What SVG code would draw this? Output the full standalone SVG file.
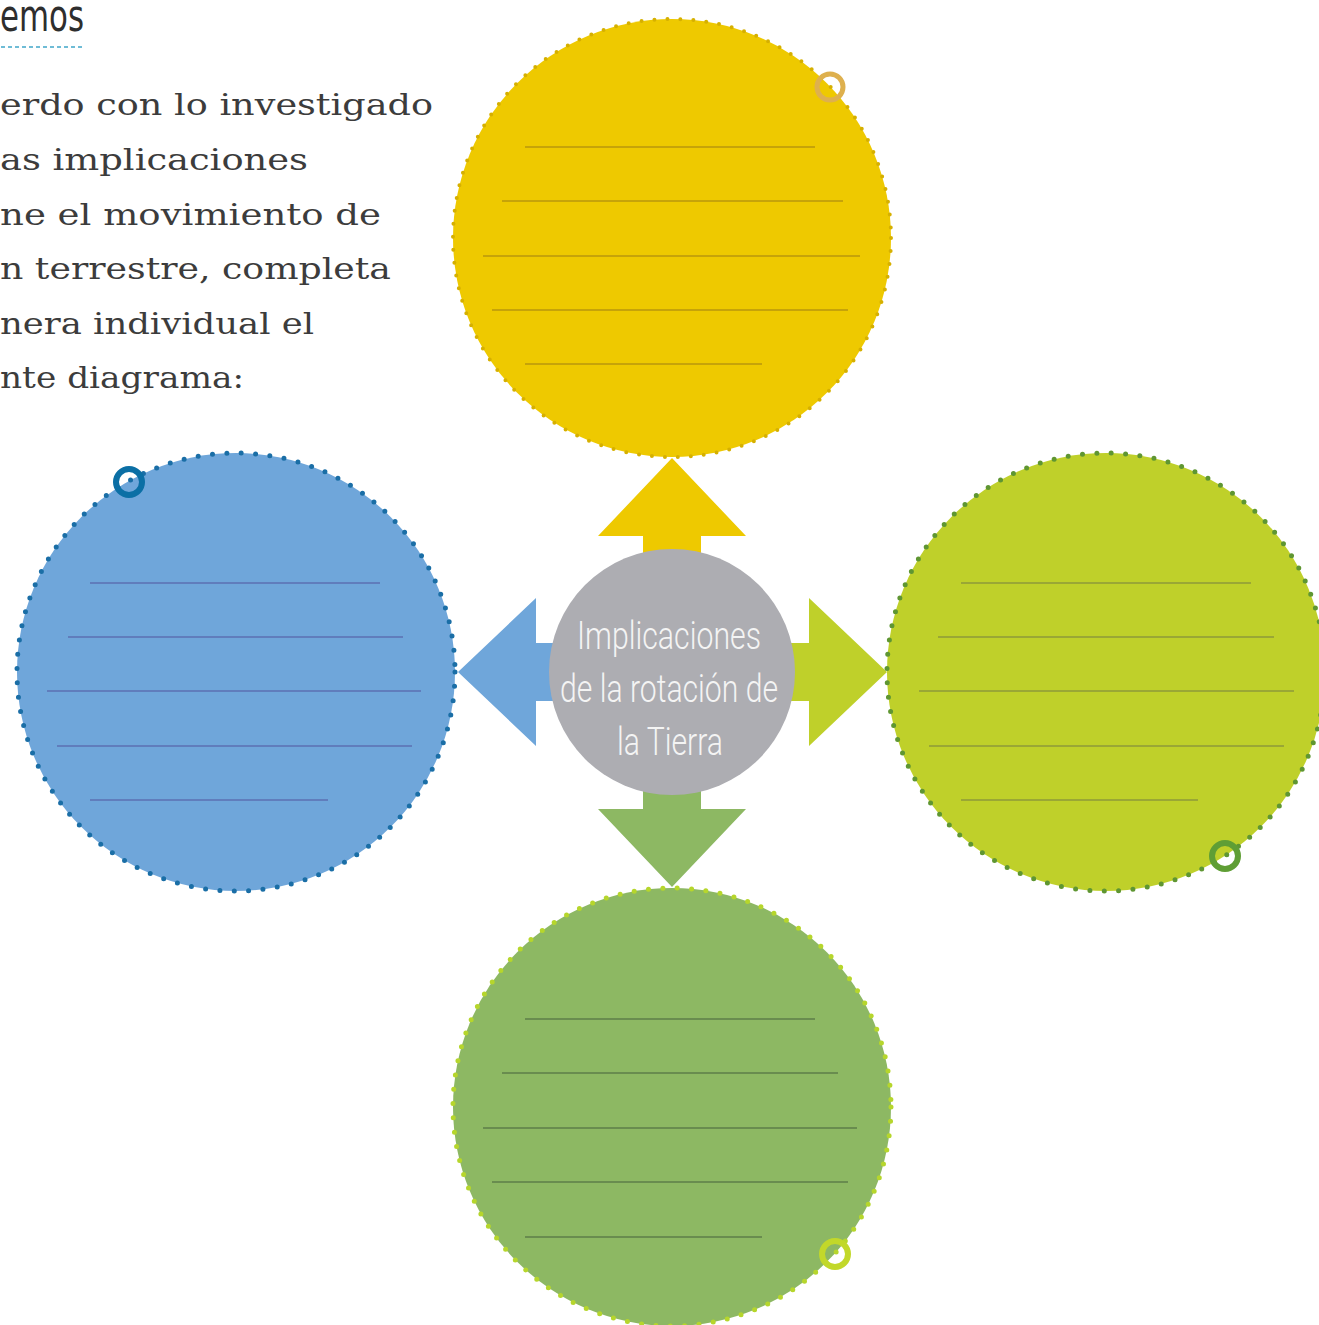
<svg xmlns="http://www.w3.org/2000/svg" width="1319" height="1325" viewBox="0 0 1319 1325">
<style>
.body{font-family:"DejaVu Serif","Liberation Serif",serif;font-size:29px;fill:#3c3c3c}
.center{font-family:Roboto,"DejaVu Sans",sans-serif;font-weight:300;font-size:38px;fill:#f4f4f4;text-anchor:middle}
.dots{fill:none;stroke-width:5;stroke-linecap:round;stroke-dasharray:0 14.4}
.ln{stroke-width:1.6;fill:none}
</style>
<rect width="1319" height="1325" fill="#ffffff"/>
<g id="heading">
<text x="0" y="31" font-family="'DejaVu Sans Condensed','DejaVu Sans',sans-serif" font-size="44" fill="#2e2e2e" textLength="84" lengthAdjust="spacingAndGlyphs">emos</text>
<line x1="1" y1="47" x2="85" y2="47" stroke="#6fbcd6" stroke-width="2" stroke-dasharray="4 3"/>
</g>
<g id="instructions" class="body">
<text x="0" y="115" textLength="433" lengthAdjust="spacingAndGlyphs">erdo con lo investigado</text>
<text x="0" y="170" textLength="308" lengthAdjust="spacingAndGlyphs">as implicaciones</text>
<text x="0" y="225" textLength="381" lengthAdjust="spacingAndGlyphs">ne el movimiento de</text>
<text x="0" y="279" textLength="391" lengthAdjust="spacingAndGlyphs">n terrestre, completa</text>
<text x="0" y="334" textLength="314" lengthAdjust="spacingAndGlyphs">nera individual el</text>
<text x="0" y="388" textLength="244" lengthAdjust="spacingAndGlyphs">nte diagrama:</text>
</g>
<g id="connectors">
<polygon fill="#eec900" points="672,458 746,536 701,536 701,560 643,560 643,536 598,536"/>
<polygon fill="#6fa6da" points="458,672 536,598 536,643 560,643 560,701 536,701 536,746"/>
<polygon fill="#bfd02a" points="887,672 809,598 809,643 785,643 785,701 809,701 809,746"/>
<polygon fill="#8db863" points="672,887 746,809 701,809 701,785 643,785 643,809 598,809"/>
</g>
<g id="node-top">
<circle cx="672" cy="238" r="219" fill="#eec900"/>
<circle cx="672" cy="238" r="219" class="dots" stroke="#d6b000" style="stroke-width:4;stroke-dasharray:0 13"/>
<g class="ln" stroke="#b8960c">
<line x1="525" y1="147" x2="815" y2="147"/>
<line x1="502" y1="201" x2="843" y2="201"/>
<line x1="483" y1="256" x2="860" y2="256"/>
<line x1="492" y1="310" x2="848" y2="310"/>
<line x1="525" y1="364" x2="762" y2="364"/>
</g>
<circle cx="830" cy="87" r="13" fill="none" stroke="#deb04e" stroke-width="5"/>
</g>
<g id="node-left">
<circle cx="236" cy="672" r="219" fill="#6fa6da"/>
<circle cx="236" cy="672" r="219" class="dots" stroke="#1a6ea6"/>
<g class="ln" stroke="#5b6fb2">
<line x1="90" y1="583" x2="380" y2="583"/>
<line x1="68" y1="637" x2="403" y2="637"/>
<line x1="47" y1="691" x2="421" y2="691"/>
<line x1="57" y1="746" x2="412" y2="746"/>
<line x1="90" y1="800" x2="328" y2="800"/>
</g>
<circle cx="129" cy="482" r="13" fill="none" stroke="#0b6fa5" stroke-width="6"/>
</g>
<g id="node-right">
<circle cx="1106" cy="672" r="219" fill="#bfd02a"/>
<circle cx="1106" cy="672" r="219" class="dots" stroke="#5f9632"/>
<g class="ln" stroke="#8e9a3a">
<line x1="961" y1="583" x2="1251" y2="583"/>
<line x1="938" y1="637" x2="1274" y2="637"/>
<line x1="919" y1="691" x2="1294" y2="691"/>
<line x1="929" y1="746" x2="1284" y2="746"/>
<line x1="961" y1="800" x2="1198" y2="800"/>
</g>
<circle cx="1225" cy="856" r="13" fill="none" stroke="#5f9e35" stroke-width="6"/>
</g>
<g id="node-bottom">
<circle cx="672" cy="1107" r="219" fill="#8db863"/>
<circle cx="672" cy="1107" r="219" class="dots" stroke="#b6d62c"/>
<g class="ln" stroke="#5e7e48">
<line x1="525" y1="1019" x2="815" y2="1019"/>
<line x1="502" y1="1073" x2="838" y2="1073"/>
<line x1="483" y1="1128" x2="857" y2="1128"/>
<line x1="492" y1="1182" x2="848" y2="1182"/>
<line x1="525" y1="1237" x2="762" y2="1237"/>
</g>
<circle cx="835" cy="1254" r="13" fill="none" stroke="#c2d82a" stroke-width="6"/>
</g>
<g id="node-center">
<circle cx="672" cy="672" r="123" fill="#adadb2"/>
<text class="center" x="669" y="649" textLength="184" lengthAdjust="spacingAndGlyphs">Implicaciones</text>
<text class="center" x="669" y="702" textLength="218" lengthAdjust="spacingAndGlyphs">de la rotación de</text>
<text class="center" x="670" y="755" textLength="106" lengthAdjust="spacingAndGlyphs">la Tierra</text>
</g>
</svg>
